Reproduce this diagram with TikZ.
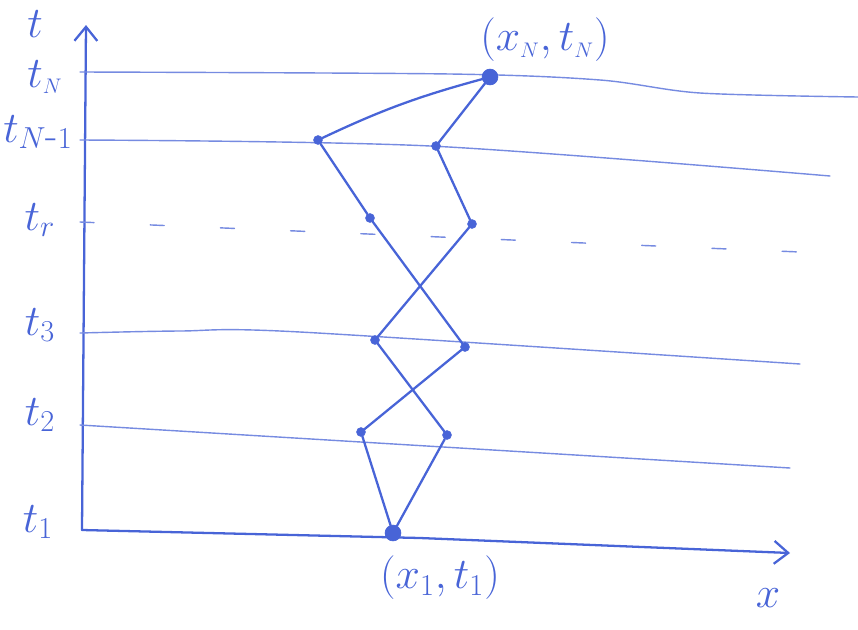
\documentclass[tikz,border=0pt]{standalone}
\usepackage{tikz}
\usetikzlibrary{arrows.meta}

\definecolor{penblue}{RGB}{72,100,215}

\begin{document}
\begin{tikzpicture}[x=0.02cm, y=-0.02cm, >={Straight Barb[length=8pt,width=13pt]},
  pen/.style={draw=penblue, line width=1.3pt, line cap=round, line join=round},
  level/.style={draw=penblue!75, line width=0.8pt, line cap=round},
  dot/.style={circle, fill=penblue, draw=penblue, inner sep=0pt, minimum size=5pt},
  bigdot/.style={dot, minimum size=9pt},
  lab/.style={text=penblue, font=\fontsize{23}{26}\selectfont, inner sep=1pt}]

\useasboundingbox (0,0) rectangle (858,629);

% Axes
\coordinate (origin) at (82,530);
\coordinate (ttop) at (86,25);
\coordinate (xend) at (790,553);
\draw[pen, ->] (origin) -- (ttop);
\draw[pen, ->] (origin) -- (420,538) -- (xend);
\node[lab, font=\fontsize{27}{30}\selectfont] (tlab) at (35,24) {$t$};
\node[lab] (xlab) at (768,598) {$x$};

% Time levels
\draw[level] plot[smooth] coordinates {(80,72) (450,74) (600,80) (700,93) (858,97)};
\draw[level] plot[smooth] coordinates {(80,140) (430,146) (830,176)};
\draw[level, dash pattern=on 8pt off 32pt] (80,222) -- (800,252);
\draw[level] plot[smooth] coordinates {(80,333) (180,331) (300,332) (800,364)};
\draw[level] (80,425) -- (790,468);

% Level labels
\node[lab] (ltN) at (45,77) {$t_{\scriptscriptstyle N}$};
\node[lab] (ltN1) at (38,132) {$t_{N\mbox{-}1}$};
\node[lab] (ltr) at (40,220) {$t_r$};
\node[lab] (lt3) at (40,325) {$t_3$};
\node[lab] (lt2) at (40,415) {$t_2$};
\node[lab] (lt1) at (38,522) {$t_1$};

% Points of the two paths
\node[bigdot] (xN) at (490,77) {};
\node[bigdot] (x1) at (393,533) {};
\node[dot] (a5) at (318,140) {};
\node[dot] (b5) at (436,146) {};
\node[dot] (a4) at (370,218) {};
\node[dot] (b4) at (472,224) {};
\node[dot] (b3) at (375,340) {};
\node[dot] (a3) at (465,347) {};
\node[dot] (a2) at (361,432) {};
\node[dot] (b2) at (447,435) {};

% Path A
\draw[pen] (x1) -- (a2) -- (a3) -- (a4) -- (a5);
\draw[pen] (a5) to[bend left=5] (xN);
% Path B
\draw[pen] (x1) -- (b2) -- (b3) -- (b4) -- (b5) -- (xN);

% End point labels
\node[lab] (lxN) at (545,40) {$(x_{\scriptscriptstyle N},t_{\scriptscriptstyle N})$};
\node[lab] (lx1) at (440,578) {$(x_1,t_1)$};

\end{tikzpicture}
\end{document}
